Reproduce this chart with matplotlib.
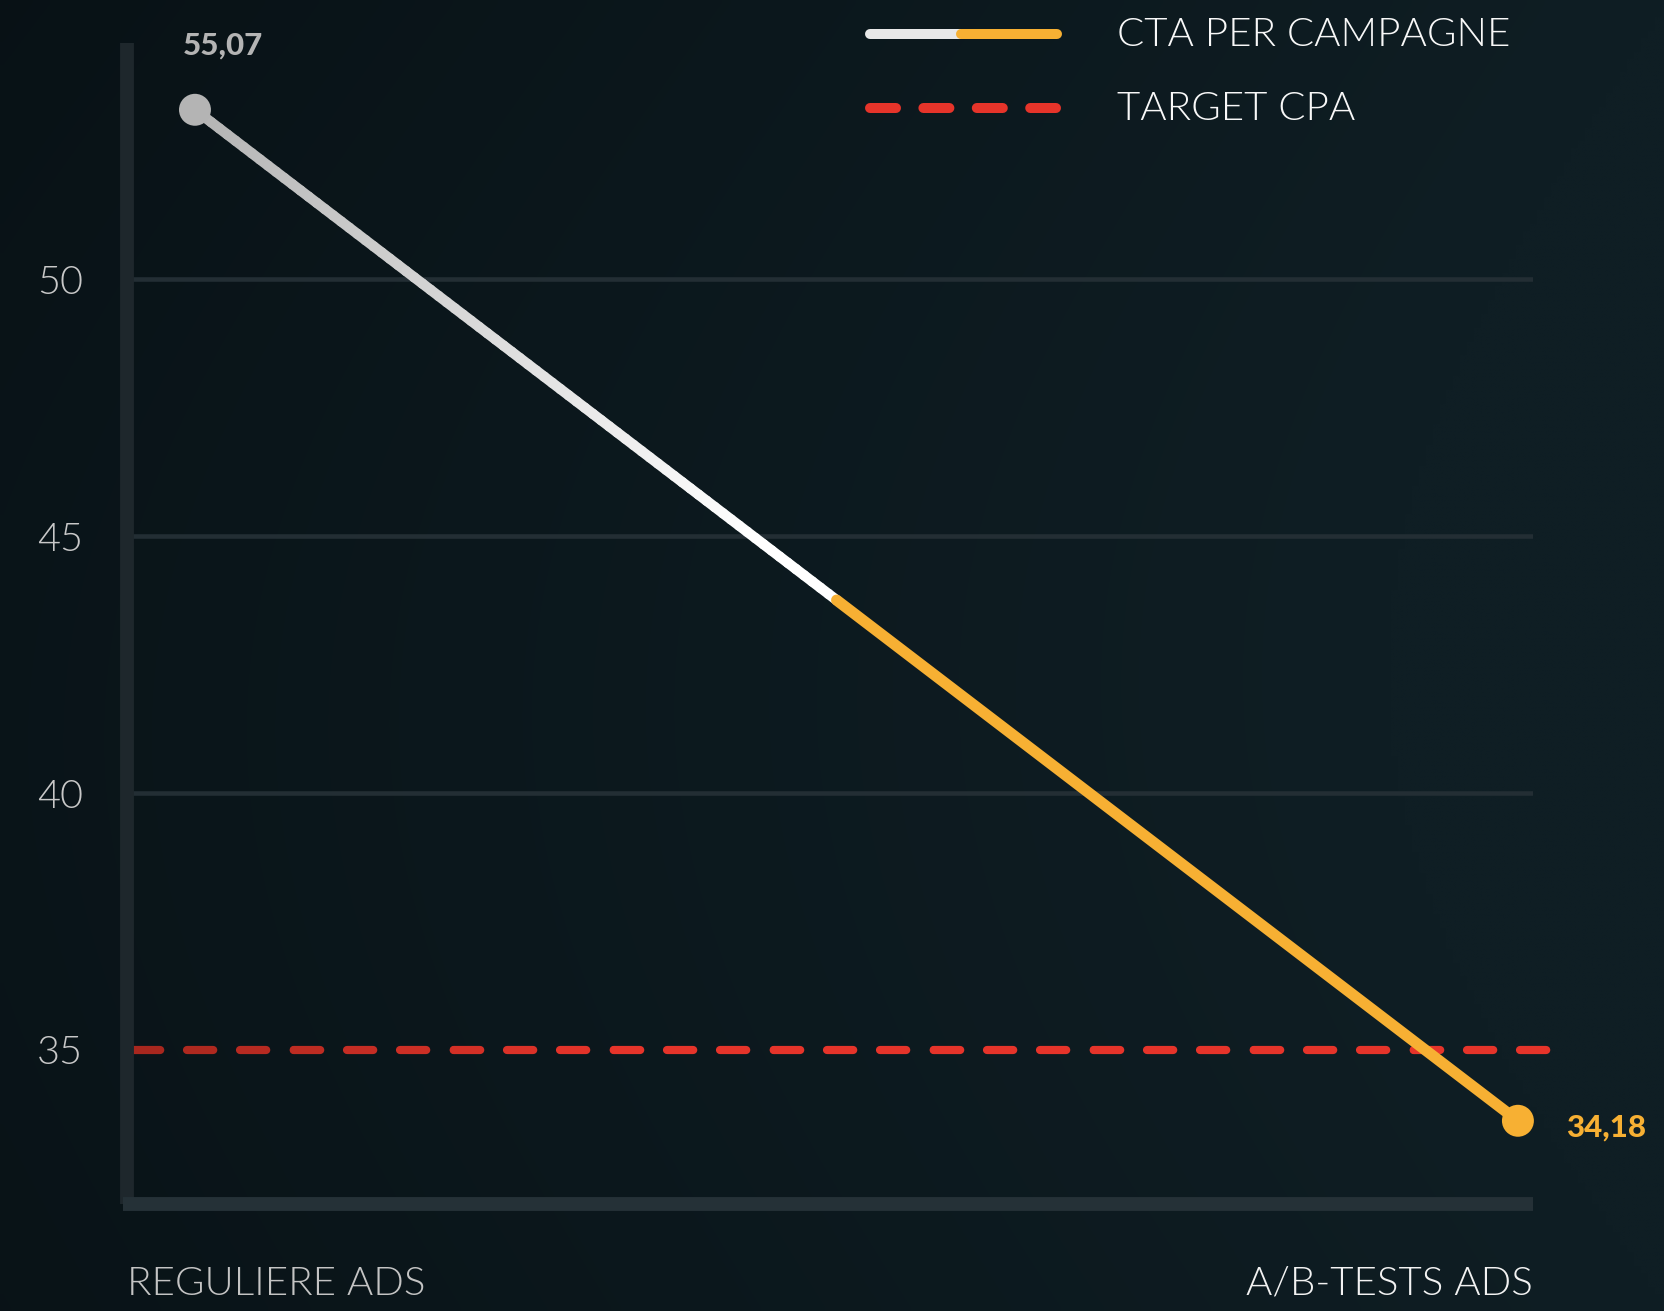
import numpy as np
import matplotlib
matplotlib.use("Agg")
import matplotlib.pyplot as plt
from matplotlib.collections import LineCollection
from matplotlib.colors import to_rgb

# ---------------- data ----------------
categories = ["REGULIERE ADS", "A/B-TESTS ADS"]
cpa_values = [53.3, 33.62]
value_labels = ["55,07", "34,18"]
target_cpa = 35.0
y_ticks = [35, 40, 45, 50]
series_name = "CTA PER CAMPAGNE"
target_name = "TARGET CPA"

# ---------------- style ----------------
FONT = ["Lato", "DejaVu Sans"]
TEXT_W = 300
NUM_W = 900
BG_DARK = "#081115"
BG_LIGHT = "#0f1e24"
GRID_C = "#232e34"
LEFT_SPINE_C = "#1e272c"
BOTTOM_SPINE_C = "#253137"
GREY = "#b4b4b4"
WHITE = "#ffffff"
ORANGE = "#f7b033"
RED = "#e6342a"
RED_DARK = "#a8271e"
TICK_C = "#c8c8c8"
SPLIT = 0.485  # fraction of the segment where the line turns orange

W, H = 1665, 1311
fig = plt.figure(figsize=(W / 100, H / 100), dpi=100)

# background gradient
bg = fig.add_axes([0, 0, 1, 1], zorder=-10)
u = np.linspace(0, 1, 240)[None, :]
v = np.linspace(0, 1, 190)[:, None]
s = np.clip(0.15 + 0.85 * u + 0.15 * np.sin(np.pi * v) - 0.1 * (1 - v) * (1 - u), 0, 1)
c0 = np.array(to_rgb(BG_DARK))
c1 = np.array(to_rgb(BG_LIGHT))
img = c0[None, None, :] * (1 - s[..., None]) + c1[None, None, :] * s[..., None]
bg.imshow(img, aspect="auto", extent=[0, 1, 0, 1], interpolation="bilinear")
bg.set_axis_off()

# main axes
ax = fig.add_axes([127.5 / W, 1 - 1204 / H, (1533 - 127.5) / W, (1204 - 43) / H])
ax.patch.set_alpha(0)
ax.set_xlim(-0.051, 1.0114)
ax.set_ylim(32, 54.6)

for side in ["top", "right"]:
    ax.spines[side].set_visible(False)
ax.spines["left"].set_color(LEFT_SPINE_C)
ax.spines["bottom"].set_color(BOTTOM_SPINE_C)
for side in ["left", "bottom"]:
    ax.spines[side].set_linewidth(10)
    ax.spines[side].set_zorder(6)
    ax.spines[side].set_capstyle("butt")
ax.spines["bottom"].set_bounds(-0.051 - 4.5 / 1323, 1.0114)

ax.set_xticks([])
ax.set_yticks(y_ticks)
ax.set_yticklabels([str(t) for t in y_ticks])
ax.tick_params(axis="y", length=0, pad=32, labelsize=28.5, labelcolor=TICK_C)
for lab in ax.get_yticklabels():
    lab.set_family(FONT)
    lab.set_weight(TEXT_W)

# grid lines (not at the target line)
for t in y_ticks:
    if t != target_cpa:
        ax.axhline(t, color=GRID_C, lw=3.3, zorder=1)

# target dashed line with gradient colour
px_per_unit = ax.get_position().width * W / (ax.get_xlim()[1] - ax.get_xlim()[0])
period = 53.33 / px_per_unit
x_start = -0.0463
x_end = 1.0217
starts = np.arange(x_start, x_end, period)
segs = [[(a, target_cpa), (min(a + period, x_end), target_cpa)] for a in starts]
fr = (starts - x_start) / (x_end - x_start)
mix = np.clip(fr / 0.32, 0, 1)[:, None]
rcols = np.array(to_rgb(RED_DARK)) * (1 - mix) + np.array(to_rgb(RED)) * mix
lc_red = LineCollection(segs, colors=rcols, linewidths=5.9,
                        linestyles=[(0, (3.2, 3.35))], capstyle="round", zorder=3)
lc_red.set_clip_on(False)
ax.add_collection(lc_red)

# main line: grey->white gradient part, then orange
x = np.arange(len(cpa_values))
x0, x1 = x[0], x[1]
y0, y1 = cpa_values
t = np.linspace(0, SPLIT, 80)
xs = x0 + t * (x1 - x0)
ys = y0 + t * (y1 - y0)
pts = np.column_stack([xs, ys])
wsegs = np.stack([pts[:-1], pts[1:]], axis=1)
wm = np.clip(t[:-1] / 0.42, 0, 1)[:, None]
wcols = np.array(to_rgb(GREY)) * (1 - wm) + np.array(to_rgb(WHITE)) * wm
lc_w = LineCollection(wsegs, colors=wcols, linewidths=7.4, capstyle="round", zorder=4)
ax.add_collection(lc_w)
xs_split = x0 + SPLIT * (x1 - x0)
ys_split = y0 + SPLIT * (y1 - y0)
ax.plot([xs_split, x1], [ys_split, y1], color=ORANGE, lw=8.0,
        solid_capstyle="round", zorder=4)

ax.scatter(x, cpa_values, s=23 ** 2, c=[GREY, ORANGE], linewidths=0, zorder=5, clip_on=False)

# value labels
ax.annotate(value_labels[0], (x[0], cpa_values[0]), xytext=(-9, 39.5),
            textcoords="offset points", ha="left", va="baseline",
            fontsize=22.5, fontweight=NUM_W, color=GREY, family=FONT,
            annotation_clip=False)
ax.annotate(value_labels[1], (x[1], cpa_values[1]), xytext=(35, -11),
            textcoords="offset points", ha="left", va="baseline",
            fontsize=22.5, fontweight=NUM_W, color=ORANGE, family=FONT,
            annotation_clip=False)

# category labels
yb = (1204 - 1295) / (1204 - 43)
ax.text(0, yb, categories[0], transform=ax.transAxes, ha="left", va="baseline",
        fontsize=29, color="#c4c4c4", family=FONT, fontweight=TEXT_W)
ax.text(1, yb, categories[1], transform=ax.transAxes, ha="right", va="baseline",
        fontsize=29, color="#f2f2f2", family=FONT, fontweight=TEXT_W)

# legend (overlay in pixel coordinates)
lg = fig.add_axes([0, 0, 1, 1], zorder=10)
lg.set_xlim(0, W)
lg.set_ylim(H, 0)
lg.set_axis_off()
lg.patch.set_alpha(0)
lg.plot([870, 961], [34, 34], color="#e8e8e8", lw=7.2, solid_capstyle="round")
lg.plot([961, 1057], [34, 34], color=ORANGE, lw=7.2, solid_capstyle="round")
lg.plot([870, 1056.2], [108, 108], color=RED, lw=7.2,
        linestyle=(0, (2.6, 2.74)), dash_capstyle="round")
lg.text(1117, 46, series_name, ha="left", va="baseline", fontsize=29,
        color="#f8f8f8", family=FONT, fontweight=TEXT_W)
lg.text(1117, 120, target_name, ha="left", va="baseline", fontsize=29,
        color="#f8f8f8", family=FONT, fontweight=TEXT_W)

fig.savefig("out.png", dpi=100)
